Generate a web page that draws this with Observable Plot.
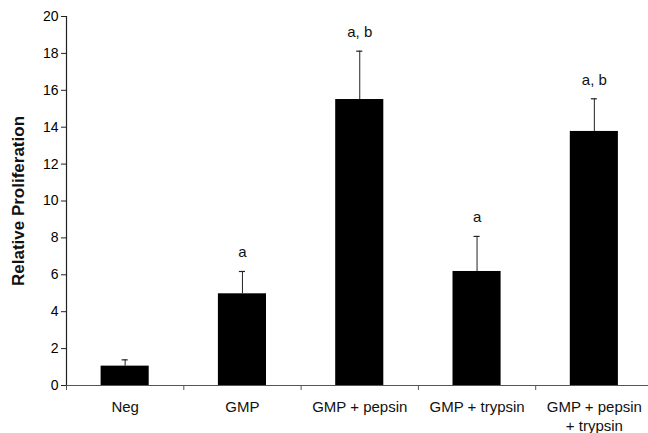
<!DOCTYPE html>
<html>
<head>
<meta charset="utf-8">
<script src="https://cdn.jsdelivr.net/npm/d3@7"></script>
<script src="https://cdn.jsdelivr.net/npm/@observablehq/plot@0.6"></script>
<style>
  html, body { margin: 0; padding: 0; background: #fff; }
</style>
</head>
<body>
<div id="chart"></div>
<script>
const categories = ["Neg", "GMP", "GMP + pepsin", "GMP + trypsin", "GMP + pepsin\n+ trypsin"];
const means = [1.05, 4.97, 15.5, 6.18, 13.77];
const errors = [0.34, 1.21, 2.62, 1.9, 1.77];
const annotations = ["", "a", "a, b", "a", "a, b"];
const yTicks = [0, 2, 4, 6, 8, 10, 12, 14, 16, 18, 20];
const yTitle = "Relative Proliferation";

const rows = categories.map((c, i) => ({
  i, name: c, mean: means[i], top: means[i] + errors[i], note: annotations[i]
}));

const font = "'Liberation Sans', Arial, Helvetica, sans-serif";

const chart = Plot.plot({
  width: 648,
  height: 433,
  marginTop: 16,
  marginBottom: 48,
  marginLeft: 66,
  marginRight: 0,
  style: { fontFamily: font, background: "#fff", color: "#000" },
  x: { domain: [0, categories.length], range: [66, 652.5] },
  y: { domain: [0, 20] },
  marks: [
    Plot.rectY(rows, { x1: "i", x2: d => d.i + 1, y: "mean", fill: "#000", insetLeft: 34.6, insetRight: 34.6 }),
    Plot.ruleX(rows, { x: d => d.i + 0.5, y1: "mean", y2: "top", stroke: "#222", strokeWidth: 1 }),
    Plot.ruleY(rows, { x1: "i", x2: d => d.i + 1, y: "top", stroke: "#222", strokeWidth: 1.2, insetLeft: 55.6, insetRight: 55.6 }),
    Plot.text(rows, { x: d => d.i + 0.5, y: "top", text: "note", dy: -14, lineAnchor: "bottom", fontSize: 15, fill: "#111" }),
    Plot.ruleY([0], { stroke: "#555", strokeWidth: 1.2 }),
    Plot.ruleX([0], { stroke: "#222", strokeWidth: 1.2 }),
    Plot.axisY({ ticks: yTicks, tickSize: 5, tickPadding: 3, fontSize: 14, label: null, stroke: "#222" }),
    Plot.axisX({ ticks: d3.range(0, categories.length + 1), tickSize: 5, tickFormat: () => "", label: null, stroke: "#555" }),
    Plot.text(rows, { x: d => d.i + 0.5, y: 0, text: "name", dy: 13, lineAnchor: "top", lineHeight: 1.27, fontSize: 15, fill: "#111" }),
    Plot.text([yTitle], { frameAnchor: "left", textAnchor: "middle", dx: -48, rotate: -90, fontSize: 17, fontWeight: "bold", fill: "#111" })
  ]
});

document.getElementById("chart").appendChild(chart);
</script>
</body>
</html>
